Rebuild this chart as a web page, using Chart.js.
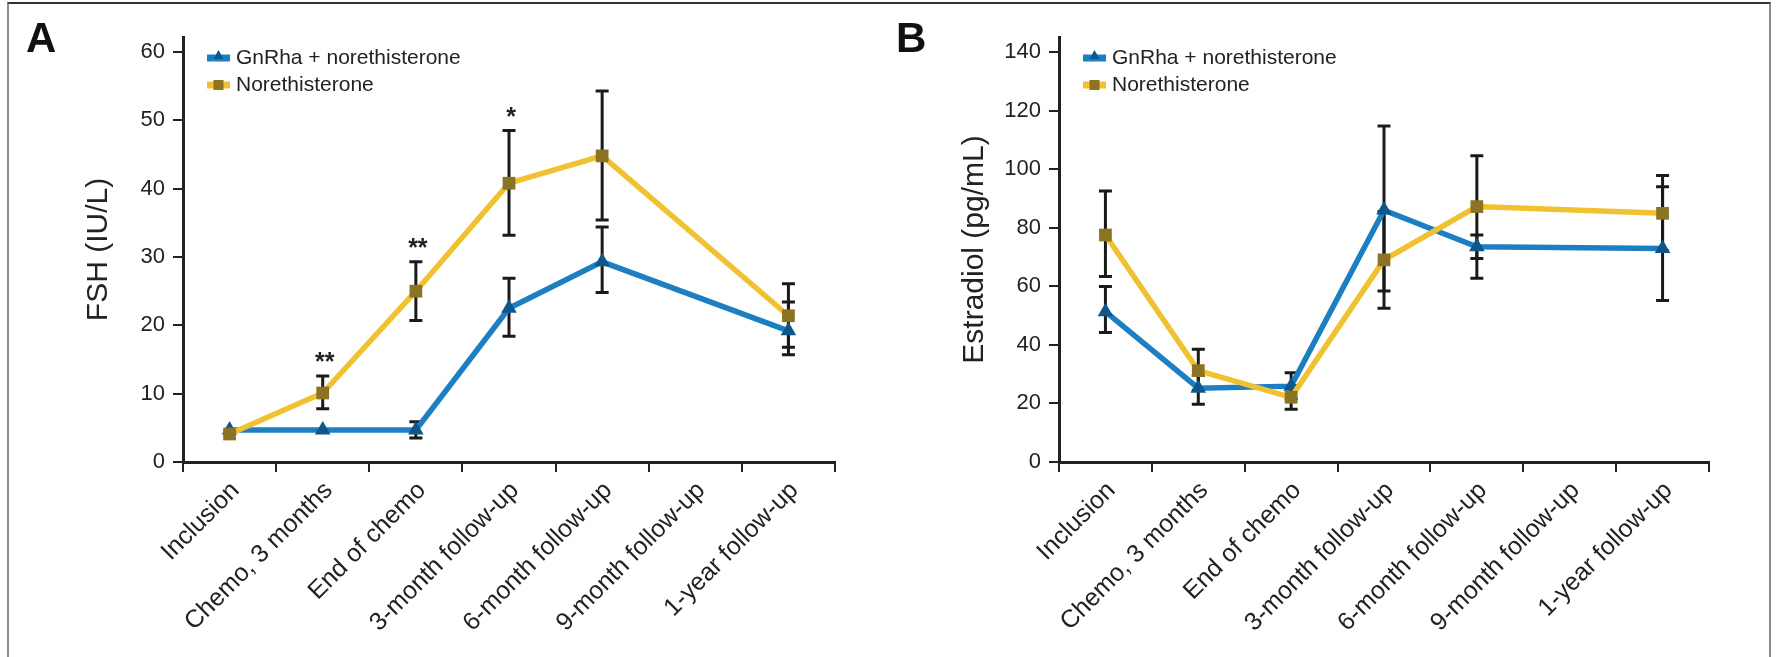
<!DOCTYPE html>
<html>
<head>
<meta charset="utf-8">
<script src="https://cdn.jsdelivr.net/npm/chart.js@4.4.1/dist/chart.umd.min.js"></script>
<style>
  html, body { margin: 0; padding: 0; background: #fff; }
  #page { position: relative; width: 1776px; height: 657px; overflow: hidden; background: #fff; }
  #frame { position: absolute; left: 7px; top: 2px; width: 1760px; height: 700px;
           border: 2px solid #8c8c8c; border-top-color: #333; }
  .panel { position: absolute; top: 0; height: 657px; }
  .tag { position: absolute; font: bold 42px 'Liberation Sans', Arial, sans-serif; line-height: 42px; color: #111; }
</style>
</head>
<body>
<div id="page">
  <div id="frame"></div>
  <div class="panel" style="left:0;width:880px"><canvas id="chartA"></canvas></div>
  <div class="panel" style="left:880px;width:896px"><canvas id="chartB"></canvas></div>
  <div class="tag" style="left:26px;top:17px">A</div>
  <div class="tag" style="left:896px;top:17px">B</div>
</div>
<script>
const categories = ['Inclusion', 'Chemo, 3 months', 'End of chemo', '3-month follow-up',
                    '6-month follow-up', '9-month follow-up', '1-year follow-up'];
const seriesNames = ['GnRha + norethisterone', 'Norethisterone'];

// A: FSH (IU/L)  -- mean, upper and lower end of error bar
const fshGnrha      = [4.7, 4.7, 4.7, 22.5, 29.3, null, 19.2];
const fshGnrhaHigh  = [null, null, 5.9, 26.9, 34.4, null, 23.4];
const fshGnrhaLow   = [null, null, 3.5, 18.4, 24.8, null, 15.7];
const fshNoreth     = [4.1, 10.1, 25.0, 40.8, 44.8, null, 21.4];
const fshNorethHigh = [null, 12.6, 29.3, 48.5, 54.3, null, 26.1];
const fshNorethLow  = [null, 7.8, 20.7, 33.2, 35.4, null, 16.8];
const fshStars      = ['', '**', '**', '*', '', '', ''];
const fshTicks      = [0, 10, 20, 30, 40, 50, 60];

// B: Estradiol (pg/mL)
const e2Gnrha      = [51.3, 25.2, 25.9, 86.0, 73.5, null, 72.9];
const e2GnrhaHigh  = [59.9, 29.5, 30.5, 114.7, 77.5, null, 94.0];
const e2GnrhaLow   = [44.2, 19.7, 21.5, 58.4, 69.5, null, 55.1];
const e2Noreth     = [77.5, 31.2, 22.1, 69.0, 87.2, null, 84.9];
const e2NorethHigh = [92.5, 38.5, 26.0, 85.5, 104.6, null, 97.8];
const e2NorethLow  = [63.3, 24.5, 18.0, 52.5, 62.7, null, 72.0];
const e2Stars      = ['', '', '', '', '', '', ''];
const e2Ticks      = [0, 20, 40, 60, 80, 100, 120, 140];

const FONT = "'Liberation Sans', Arial, sans-serif";
const ink = '#222';
const blueLine = '#1c7fc1', blueMark = '#0f578a';
const goldLine = '#f0c232', goldMark = '#8a7322';

function makeOverlay(bars, stars, starBase) {
  return {
    id: 'overlay',
    beforeDatasetsDraw(chart) {
      const ctx = chart.ctx, x = chart.scales.x, y = chart.scales.y;
      ctx.save();
      ctx.strokeStyle = '#1a1a1a';
      ctx.lineWidth = 3;
      bars.forEach(([hi, lo]) => {
        hi.forEach((h, i) => {
          if (h == null) return;
          const px = x.getPixelForValue(i);
          const top = y.getPixelForValue(h), bot = y.getPixelForValue(lo[i]);
          ctx.beginPath();
          ctx.moveTo(px, top); ctx.lineTo(px, bot);
          ctx.moveTo(px - 6.5, top); ctx.lineTo(px + 6.5, top);
          ctx.moveTo(px - 6.5, bot); ctx.lineTo(px + 6.5, bot);
          ctx.stroke();
        });
      });
      ctx.restore();
    },
    afterDraw(chart) {
      const ctx = chart.ctx, x = chart.scales.x, y = chart.scales.y;
      const area = chart.chartArea;
      ctx.save();
      // significance marks
      ctx.fillStyle = ink;
      ctx.font = 'bold 25px ' + FONT;
      ctx.textAlign = 'center';
      ctx.textBaseline = 'alphabetic';
      stars.forEach((s, i) => {
        if (!s) return;
        ctx.fillText(s, x.getPixelForValue(i) + 2, y.getPixelForValue(starBase[i]) - 6);
      });
      // legend
      chart.data.datasets.forEach((ds, k) => {
        const cy = area.top + 21 + k * 27;
        const x0 = area.left + 24, x1 = area.left + 47, mx = (x0 + x1) / 2;
        ctx.strokeStyle = ds.borderColor;
        ctx.lineWidth = 7;
        ctx.beginPath(); ctx.moveTo(x0, cy); ctx.lineTo(x1, cy); ctx.stroke();
        ctx.fillStyle = ds.pointBackgroundColor;
        ctx.beginPath();
        if (ds.pointStyle === 'triangle') {
          ctx.moveTo(mx, cy - 8); ctx.lineTo(mx + 5, cy + 1); ctx.lineTo(mx - 5, cy + 1);
        } else {
          ctx.rect(mx - 5, cy - 5, 10, 10);
        }
        ctx.fill();
        ctx.fillStyle = ink;
        ctx.font = '21px ' + FONT;
        ctx.textAlign = 'left';
        ctx.textBaseline = 'middle';
        ctx.fillText(ds.label, area.left + 53, cy);
      });
      ctx.restore();
    }
  };
}

function makeScales(ticks, maxVal, titleText, yWidth, titlePad) {
  return {
    x: {
      type: 'category',
      offset: true,
      grid: { offset: true, drawOnChartArea: false, tickLength: 10, color: ink, lineWidth: 2 },
      border: { display: true, color: ink, width: 3 },
      ticks: { autoSkip: false, minRotation: 45, maxRotation: 45, padding: 4, labelOffset: 6,
               color: ink, font: { family: FONT, size: 25 } },
      afterFit(s) { s.height = 195; }
    },
    y: {
      min: 0,
      max: maxVal,
      afterBuildTicks(s) { s.ticks = ticks.map(v => ({ value: v })); },
      grid: { drawOnChartArea: false, tickLength: 10, color: ink, lineWidth: 2 },
      border: { display: true, color: ink, width: 3 },
      ticks: { padding: 8, color: ink, font: { family: FONT, size: 22 } },
      title: { display: true, text: titleText, color: ink, font: { family: FONT, size: 30 },
               padding: { top: titlePad, bottom: 0 } },
      afterFit(s) { s.width = yWidth; }
    }
  };
}

function buildChart(id, blue, gold, ticks, maxVal, titleText, yWidth, titlePad, padRight, bars, stars, starBase) {
  return new Chart(document.getElementById(id), {
    type: 'line',
    data: {
      labels: categories,
      datasets: [
        {
          label: seriesNames[0],
          data: blue,
          order: 2,
          borderColor: blueLine,
          borderWidth: 5.5,
          pointStyle: 'triangle',
          pointRadius: 9,
          pointBorderWidth: 0,
          pointBackgroundColor: blueMark,
          spanGaps: true,
          tension: 0
        },
        {
          label: seriesNames[1],
          data: gold,
          order: 1,
          borderColor: goldLine,
          borderWidth: 5.5,
          pointStyle: 'rect',
          pointRadius: 9,
          pointBorderWidth: 0,
          pointBackgroundColor: goldMark,
          spanGaps: true,
          tension: 0
        }
      ]
    },
    options: {
      responsive: true,
      maintainAspectRatio: false,
      animation: false,
      layout: { padding: { left: 0, top: 37, right: padRight, bottom: 0 } },
      plugins: { legend: { display: false }, tooltip: { enabled: false } },
      scales: makeScales(ticks, maxVal, titleText, yWidth, titlePad)
    },
    plugins: [makeOverlay(bars, stars, starBase)]
  });
}

buildChart('chartA', fshGnrha, fshNoreth, fshTicks, 62.2, 'FSH (IU/L)', 183, 81, 45,
  [[fshGnrhaHigh, fshGnrhaLow], [fshNorethHigh, fshNorethLow]], fshStars, fshNorethHigh);

buildChart('chartB', e2Gnrha, e2Noreth, e2Ticks, 145.1, 'Estradiol (pg/mL)', 179, 77, 67,
  [[e2GnrhaHigh, e2GnrhaLow], [e2NorethHigh, e2NorethLow]], e2Stars, e2NorethHigh);
</script>
</body>
</html>
